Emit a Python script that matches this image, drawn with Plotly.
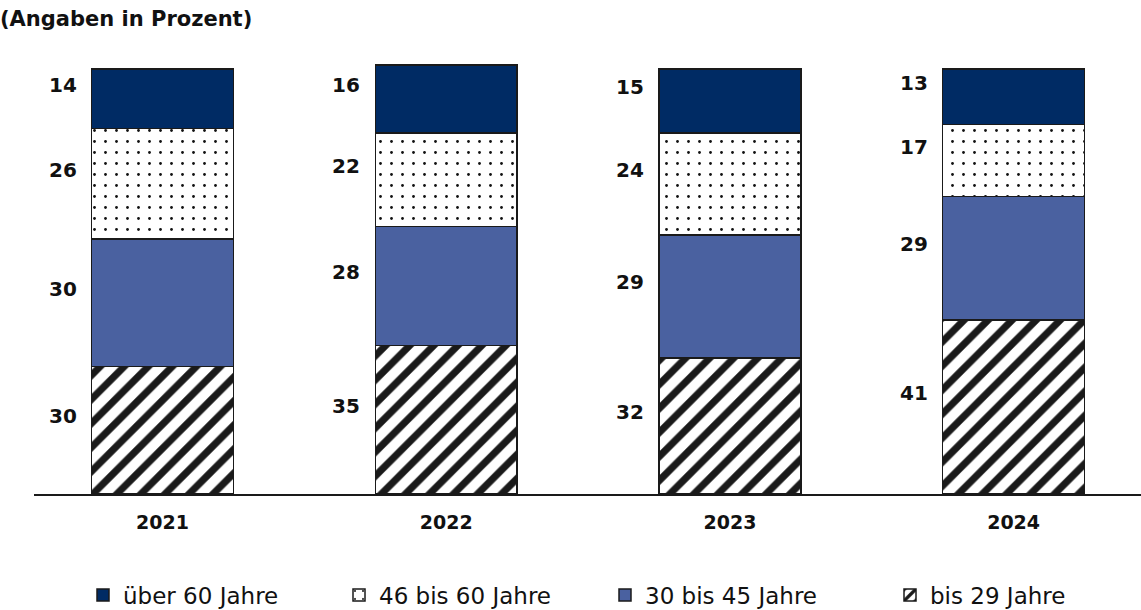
import plotly.graph_objects as go

# Altersgruppen je Jahr (Angaben in Prozent)
years = ["2021", "2022", "2023", "2024"]
bis_29 = [30, 35, 32, 41]
von_30_bis_45 = [30, 28, 29, 29]
von_46_bis_60 = [26, 22, 24, 17]
ueber_60 = [14, 16, 15, 13]

series = [
    ("bis 29 Jahre", bis_29, dict(color="white", pattern=dict(shape="/", fgcolor="#1a1a1a", fgopacity=1, bgcolor="white", size=17, solidity=0.42))),
    ("30 bis 45 Jahre", von_30_bis_45, dict(color="#4a61a0")),
    ("46 bis 60 Jahre", von_46_bis_60, dict(color="white", pattern=dict(shape=".", fgcolor="#111111", fgopacity=1, bgcolor="white", size=11, solidity=0.05))),
    ("über 60 Jahre", ueber_60, dict(color="#002b64")),
]

# one legend box per series, laid out left to right
legend_ids = {"über 60 Jahre": "legend", "46 bis 60 Jahre": "legend2",
              "30 bis 45 Jahre": "legend3", "bis 29 Jahre": "legend4"}
legend_x = {"legend": 83, "legend2": 339, "legend3": 605, "legend4": 890}

FONT = "DejaVu Sans"
INK = "#111111"

fig = go.Figure()
for name, vals, mk in series:
    mk = dict(mk)
    mk["line"] = dict(color="#1a1a1a", width=1.5)
    fig.add_trace(go.Bar(x=list(range(len(years))), y=vals, name=name, marker=mk, width=0.5,
                         legend=legend_ids[name]))

# value labels to the left of each segment
for i in range(len(years)):
    base = 0
    for name, vals, mk in series:
        v = vals[i]
        fig.add_annotation(
            x=i - 0.25, y=base + v / 2, text=f"<b>{v}</b>", showarrow=False,
            xanchor="right", yanchor="middle", xshift=-13, yshift=14,
            font=dict(family=FONT, size=20, color=INK),
        )
        base += v

legend_layout = {
    lid: dict(orientation="h", x=lx / 1141, xref="container", xanchor="left",
              y=15 / 610, yref="container", yanchor="middle",
              font=dict(family=FONT, size=23, color=INK), bgcolor="rgba(0,0,0,0)")
    for lid, lx in legend_x.items()
}

fig.update_layout(
    barmode="stack",
    width=1141, height=610,
    margin=dict(l=34, r=0, t=48, b=116),
    paper_bgcolor="white", plot_bgcolor="white",
    font=dict(family=FONT, color=INK),
    title=dict(text="<b>(Angaben in Prozent)</b>", x=0.0, xref="container", xanchor="left",
               y=0.970, yref="container", yanchor="middle",
               font=dict(family=FONT, size=21, color=INK)),
    xaxis=dict(range=[-0.453, 3.449], tickmode="array", tickvals=list(range(len(years))),
               ticktext=[f"<b>{y}</b>" for y in years], showline=True, linecolor="#1a1a1a",
               linewidth=1.5, ticks="", showgrid=False, zeroline=False, ticklabelstandoff=10,
               tickfont=dict(family=FONT, size=19, color=INK)),
    yaxis=dict(range=[0, 105], visible=False, showgrid=False),
    showlegend=True,
    **legend_layout,
)

fig.write_html("out.html")
